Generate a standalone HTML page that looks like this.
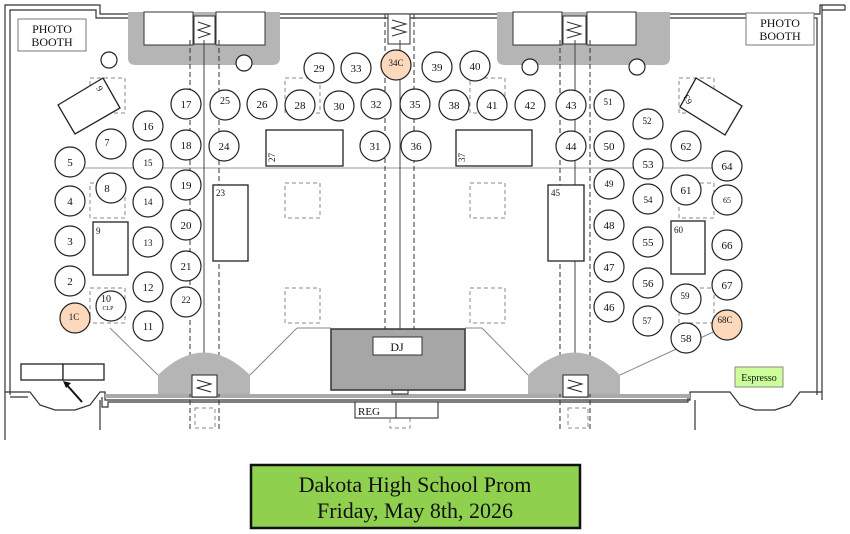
<!DOCTYPE html>
<html><head><meta charset="utf-8"><style>
html,body{margin:0;padding:0;background:#fff;}
svg{display:block;}
text{font-family:"Liberation Serif",serif;fill:#111;}
</style></head><body>
<svg width="850" height="534" viewBox="0 0 850 534" xmlns="http://www.w3.org/2000/svg">
<g fill="none" stroke="#333" stroke-width="1.2">
<!-- outer walls -->
<path d="M5,440 V5 H100 V14 H820 V5 H845"/>
<path d="M10,395 V10 H96 V18 H817 V395"/>
<path d="M822,5 V400 M845,5 V10 H822"/>
<!-- bottom walls -->
<path d="M5,392 H30 L40,405 L55,410 L75,410 L90,405 L100,392 H105 V400 H690 V392 H705"/>
<path d="M10,397 H28 M102,397 V407 H108 V402 H688 V397"/>
<path d="M705,392 H730 L740,405 L755,410 L775,410 L790,405 L800,392 H822"/>
<path d="M100,400 V430 M695,400 V430"/>
</g>
<rect x="105" y="394" width="585" height="4" fill="#aaa"/>
<!-- top niches -->
<path d="M128,12 H280 V58 Q280,65 272,65 H136 Q128,65 128,58 Z" fill="#b5b5b5"/>
<path d="M497,12 H670 V58 Q670,65 662,65 H505 Q497,65 497,58 Z" fill="#b5b5b5"/>
<g fill="#fff" stroke="#333" stroke-width="1">
<rect x="144" y="12" width="49" height="33"/><rect x="216" y="12" width="49" height="33"/>
<rect x="513" y="12" width="49" height="33"/><rect x="587" y="12" width="49" height="33"/>
<rect x="194" y="16" width="21" height="28"/><rect x="563" y="16" width="23" height="28"/>
<rect x="388" y="14" width="22" height="30"/>
</g>
<g font-size="11" stroke="#333" fill="none">
<path d="M198,22 l12,4 l-12,4 l12,4 l-12,4 M567,22 l14,4 l-14,4 l14,4 l-14,4 M392,20 l14,4 l-14,4 l14,4 l-14,4"/>
</g>
<!-- photo booths -->
<rect x="18" y="19" width="68" height="32" fill="#fff" stroke="#777"/>
<text x="52" y="33" font-size="12" text-anchor="middle">PHOTO</text>
<text x="52" y="46" font-size="12" text-anchor="middle">BOOTH</text>
<rect x="746" y="13" width="68" height="32" fill="#fff" stroke="#777"/>
<text x="780" y="27" font-size="12" text-anchor="middle">PHOTO</text>
<text x="780" y="40" font-size="12" text-anchor="middle">BOOTH</text>
<!-- small pillars -->
<g fill="#fff" stroke="#222" stroke-width="1.2">
<circle cx="109" cy="60" r="8"/><circle cx="244" cy="63" r="8"/>
<circle cx="530" cy="67" r="8"/><circle cx="637" cy="67" r="8"/>
</g>
<!-- center hline -->
<line x1="85" y1="168" x2="720" y2="168" stroke="#999"/>
<!-- vertical aisles -->
<g stroke="#333" stroke-width="1" stroke-dasharray="5,3">
<line x1="190" y1="40" x2="190" y2="430"/><line x1="219" y1="40" x2="219" y2="430"/>
<line x1="385" y1="14" x2="385" y2="330"/><line x1="414" y1="14" x2="414" y2="330"/>
<line x1="560" y1="40" x2="560" y2="430"/><line x1="590" y1="40" x2="590" y2="430"/>
</g>
<g stroke="#444" stroke-width="1">
<line x1="204" y1="40" x2="204" y2="380"/><line x1="400" y1="40" x2="400" y2="330"/><line x1="575" y1="40" x2="575" y2="380"/>
</g>
<!-- dashed squares -->
<g fill="none" stroke="#888" stroke-dasharray="4,3">
<rect x="90" y="78" width="35" height="35"/><rect x="285" y="78" width="35" height="35"/><rect x="470" y="78" width="35" height="35"/><rect x="679" y="78" width="35" height="35"/>
<rect x="90" y="183" width="35" height="35"/><rect x="285" y="183" width="35" height="35"/><rect x="470" y="183" width="35" height="35"/><rect x="679" y="183" width="35" height="35"/>
<rect x="90" y="288" width="35" height="35"/><rect x="285" y="288" width="35" height="35"/><rect x="470" y="288" width="35" height="35"/><rect x="679" y="288" width="35" height="35"/>
<rect x="195" y="408" width="20" height="20"/><rect x="390" y="410" width="20" height="18"/><rect x="568" y="408" width="20" height="20"/>
</g>
<!-- diagonal lines -->
<g stroke="#888" stroke-width="1">
<line x1="110" y1="328" x2="158" y2="375"/><line x1="297" y1="328" x2="250" y2="375"/>
<line x1="482" y1="328" x2="528" y2="375"/><line x1="722" y1="328" x2="620" y2="375"/>
<line x1="297" y1="328" x2="331" y2="328"/><line x1="465" y1="328" x2="482" y2="328"/>
</g>
<!-- bottom arches -->
<path d="M158,394 V375 Q204,330 250,375 V394 Z" fill="#b5b5b5"/>
<path d="M528,394 V375 Q575,330 620,375 V394 Z" fill="#b5b5b5"/>
<g fill="#fff" stroke="#222">
<rect x="192" y="375" width="25" height="22"/><rect x="563" y="375" width="25" height="22"/>
<rect x="392" y="386" width="16" height="8"/>
</g>
<path d="M197,380 l14,4 l-14,4 l14,4 M568,380 l14,4 l-14,4 l14,4" stroke="#222" fill="none"/>
<!-- DJ -->
<rect x="331" y="329" width="134" height="61" fill="#a6a6a6" stroke="#333" stroke-width="1.5"/>
<rect x="373" y="337" width="49" height="18" fill="#fff" stroke="#333"/>
<text x="397" y="351" font-size="12" text-anchor="middle">DJ</text>
<!-- REG -->
<rect x="355" y="402" width="41" height="16" fill="#fff" stroke="#222"/>
<rect x="396" y="402" width="42" height="16" fill="#fff" stroke="#222"/>
<text x="358" y="415" font-size="11">REG</text>
<!-- bottom-left boxes -->
<rect x="21" y="364" width="42" height="16" fill="#fff" stroke="#222" stroke-width="1.3"/>
<rect x="63" y="364" width="41" height="16" fill="#fff" stroke="#222" stroke-width="1.3"/>
<path d="M82,402 L66,384" stroke="#111" stroke-width="2"/><path d="M63,381 l8,2 l-5,5 z" fill="#111"/>
<!-- Espresso -->
<rect x="735" y="367" width="48" height="20" fill="#ccff99" stroke="#888"/>
<text x="759" y="381" font-size="10" text-anchor="middle">Espresso</text>
<!-- rect tables -->
<g fill="#fff" stroke="#222" stroke-width="1.3">
<polygon points="58,105 103,78 120,108 75,134"/>
<polygon points="696,78 742,106 725,135 680,107"/>
<rect x="266" y="130" width="77" height="36"/>
<rect x="456" y="130" width="76" height="36"/>
<rect x="213" y="185" width="35" height="76"/>
<rect x="548" y="185" width="36" height="76"/>
<rect x="93" y="222" width="35" height="53"/>
<rect x="671" y="221" width="34" height="53"/>
</g>
<g font-size="9">
<text x="96" y="88" transform="rotate(60 96 88)">9</text>
<text x="684" y="103" transform="rotate(-120 688 100)">63</text>
<text x="275" y="162" transform="rotate(-90 275 162)">27</text>
<text x="465" y="162" transform="rotate(-90 465 162)">37</text>
<text x="216" y="196">23</text><text x="551" y="196">45</text>
<text x="96" y="234">9</text><text x="674" y="233">60</text>
</g>
<!-- round tables -->
<g stroke="#222" stroke-width="1.2" fill="#fff">
<circle cx="319" cy="68" r="15"/><circle cx="356" cy="68" r="15"/><circle cx="396" cy="65" r="15" fill="#fcd9bd"/><circle cx="437" cy="67" r="15"/><circle cx="475" cy="66" r="15"/>
<circle cx="186" cy="104" r="15"/><circle cx="225" cy="105" r="15"/><circle cx="262" cy="104" r="15"/><circle cx="300" cy="105" r="15"/><circle cx="339" cy="106" r="15"/><circle cx="376" cy="104" r="15"/><circle cx="415" cy="104" r="15"/><circle cx="454" cy="105" r="15"/><circle cx="492" cy="105" r="15"/><circle cx="530" cy="105" r="15"/><circle cx="571" cy="105" r="15"/><circle cx="609" cy="105" r="15"/>
<circle cx="148" cy="126" r="15"/><circle cx="111" cy="144" r="15"/><circle cx="186" cy="145" r="15"/><circle cx="224" cy="146" r="15"/><circle cx="375" cy="146" r="15"/><circle cx="416" cy="146" r="15"/><circle cx="571" cy="146" r="15"/><circle cx="609" cy="146" r="15"/><circle cx="648" cy="124" r="15"/><circle cx="686" cy="146" r="15"/><circle cx="648" cy="164" r="15"/><circle cx="727" cy="166" r="15"/>
<circle cx="70" cy="162" r="15"/><circle cx="148" cy="164" r="15"/><circle cx="111" cy="188" r="15"/><circle cx="186" cy="185" r="15"/><circle cx="70" cy="201" r="15"/><circle cx="148" cy="202" r="15"/><circle cx="609" cy="184" r="15"/><circle cx="686" cy="190" r="15"/><circle cx="648" cy="199" r="15"/><circle cx="727" cy="200" r="15"/>
<circle cx="186" cy="225" r="15"/><circle cx="70" cy="241" r="15"/><circle cx="148" cy="242" r="15"/><circle cx="609" cy="225" r="15"/><circle cx="648" cy="242" r="15"/><circle cx="727" cy="245" r="15"/>
<circle cx="186" cy="266" r="15"/><circle cx="70" cy="281" r="15"/><circle cx="148" cy="287" r="15"/><circle cx="609" cy="267" r="15"/><circle cx="648" cy="283" r="15"/><circle cx="727" cy="285" r="15"/>
<circle cx="186" cy="302" r="15"/><circle cx="111" cy="306" r="15"/><circle cx="75" cy="318" r="15" fill="#fcd9bd"/><circle cx="148" cy="326" r="15"/><circle cx="609" cy="307" r="15"/><circle cx="648" cy="321" r="15"/><circle cx="686" cy="299" r="15"/><circle cx="727" cy="325" r="15" fill="#fcd9bd"/><circle cx="686" cy="338" r="15"/>
</g>
<g font-size="11" text-anchor="middle">
<text x="319" y="72">29</text><text x="356" y="72">33</text><text x="396" y="66" font-size="9">34C</text><text x="437" y="71">39</text><text x="475" y="70">40</text>
<text x="186" y="108">17</text><text x="225" y="104" font-size="10">25</text><text x="262" y="108">26</text><text x="300" y="109">28</text><text x="339" y="110">30</text><text x="376" y="108">32</text><text x="415" y="108">35</text><text x="454" y="109">38</text><text x="492" y="109">41</text><text x="530" y="109">42</text><text x="571" y="109">43</text><text x="608" y="105" font-size="9">51</text>
<text x="148" y="130">16</text><text x="107" y="146" font-size="10">7</text><text x="186" y="149">18</text><text x="224" y="150">24</text><text x="375" y="150">31</text><text x="416" y="150">36</text><text x="571" y="150">44</text><text x="609" y="150">50</text><text x="647" y="124" font-size="9">52</text><text x="686" y="150">62</text><text x="648" y="168">53</text><text x="727" y="170">64</text>
<text x="70" y="166">5</text><text x="148" y="166" font-size="9">15</text><text x="107" y="192">8</text><text x="186" y="189">19</text><text x="70" y="205">4</text><text x="148" y="205" font-size="9">14</text><text x="609" y="187" font-size="9">49</text><text x="686" y="194">61</text><text x="648" y="203" font-size="9">54</text><text x="727" y="203" font-size="8">65</text>
<text x="186" y="229">20</text><text x="70" y="245">3</text><text x="148" y="246" font-size="9">13</text><text x="609" y="229">48</text><text x="648" y="246">55</text><text x="727" y="249">66</text>
<text x="186" y="270">21</text><text x="70" y="285">2</text><text x="148" y="291">12</text><text x="609" y="271">47</text><text x="648" y="287">56</text><text x="727" y="289">67</text>
<text x="186" y="303" font-size="9">22</text><text x="106" y="302" font-size="10">10</text><text x="108" y="310" font-size="6">CLP</text><text x="74" y="320" font-size="9">1C</text><text x="148" y="330">11</text><text x="609" y="311">46</text><text x="647" y="324" font-size="9">57</text><text x="685" y="299" font-size="9">59</text><text x="725" y="323" font-size="9">68C</text><text x="686" y="342">58</text>
</g>
<!-- title -->
<rect x="251" y="465" width="329" height="63" fill="#8fd14f" stroke="#111" stroke-width="2.5"/>
<text x="415" y="492" font-size="22" text-anchor="middle">Dakota High School Prom</text>
<text x="415" y="518" font-size="22" text-anchor="middle">Friday, May 8th, 2026</text>
</svg>
</body></html>
